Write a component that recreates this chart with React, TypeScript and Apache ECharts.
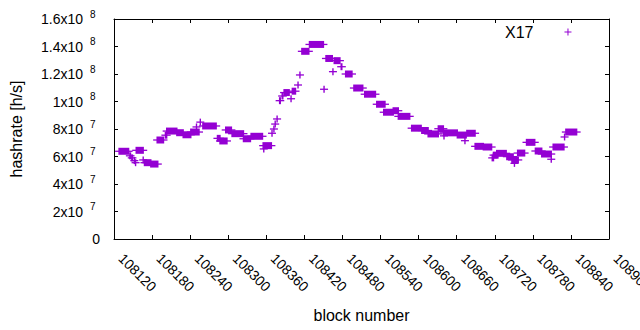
import React, { useEffect, useRef } from "react";
import * as echarts from "echarts";

// Runs of blocks sharing (almost) the same hashrate: first block, last block, hashrate [h/s]
const runStart = [
  108128, 108145, 108148, 108152, 108154, 108155, 108166, 108168, 108178, 108188,
  108201, 108203, 108219, 108229, 108241, 108250, 108256, 108260, 108283, 108287,
  108296, 108306, 108324, 108336, 108355, 108356, 108369, 108372, 108374, 108377,
  108381, 108385, 108388, 108399, 108401, 108410, 108413, 108416, 108428, 108451,
  108454, 108465, 108467, 108478, 108485, 108498, 108515, 108534, 108545, 108560,
  108568, 108589, 108605, 108615, 108631, 108639, 108640, 108661, 108673, 108676,
  108689, 108702, 108716, 108718, 108723, 108739, 108747, 108751, 108756, 108770,
  108784, 108794, 108809, 108812, 108830, 108832,
];
const runEnd = [
  108143, 108146, 108149, 108152, 108154, 108166, 108166, 108178, 108189, 108198,
  108203, 108219, 108229, 108241, 108254, 108250, 108256, 108281, 108287, 108298,
  108305, 108324, 108335, 108354, 108368, 108356, 108369, 108372, 108374, 108377,
  108382, 108386, 108396, 108399, 108406, 108410, 108413, 108427, 108450, 108451,
  108464, 108465, 108476, 108479, 108495, 108512, 108532, 108547, 108560, 108568,
  108586, 108604, 108615, 108631, 108639, 108661, 108640, 108675, 108673, 108689,
  108702, 108715, 108718, 108725, 108738, 108749, 108757, 108751, 108767, 108783,
  108794, 108809, 108809, 108829, 108830, 108849,
];
const runHashrate = [
  63.8e6, 60.5e6, 59e6, 57e6, 55.5e6, 64.5e6, 57.5e6, 55.5e6, 54.5e6, 72e6,
  75.5e6, 78.5e6, 77.3e6, 75.8e6, 77.8e6, 81.5e6, 85e6, 82.2e6, 73.2e6, 71.3e6,
  79.3e6, 76.6e6, 72.9e6, 74.7e6, 67.9e6, 65.5e6, 76.9e6, 80e6, 83.6e6, 87.3e6,
  100.6e6, 104e6, 106.5e6, 102e6, 107.5e6, 112e6, 119.3e6, 136.5e6, 141.5e6, 108.9e6,
  131.3e6, 121.7e6, 129.7e6, 125.3e6, 120e6, 109.8e6, 105.3e6, 98e6, 92.2e6, 93.3e6,
  89.2e6, 80.6e6, 78.9e6, 76.4e6, 80.2e6, 77.2e6, 75e6, 75.6e6, 71.5e6, 76.9e6,
  67.4e6, 66.9e6, 59e6, 61e6, 62.3e6, 59.9e6, 57.5e6, 55e6, 62.5e6, 70.3e6,
  64e6, 61.8e6, 58e6, 66.9e6, 74.2e6, 77.8e6,
];

const seriesName = "X17";
const xMin = 108120;
const xMax = 108900;
const xStep = 60;
const yMin = 0;
const yMax = 1.6e8;
const yStep = 2e7;

const COLOR = "#9400d3";
const FONT = "'Liberation Sans', Arial, sans-serif";

export default function App() {
  const ref = useRef<HTMLDivElement>(null);

  useEffect(() => {
    if (!ref.current) return;
    const chart = echarts.init(ref.current, undefined, { renderer: "svg" });
    const data = runStart.map((s, i) => [s, runEnd[i], runHashrate[i]]);

    const axisLine = { show: true, onZero: false, lineStyle: { color: "#000", width: 1 } };
    const axisTick = { show: true, inside: true, length: 4, lineStyle: { color: "#000" } };

    const yFormatter = (v: number) => {
      if (v === 0) return "{z|0}";
      const exp = Math.floor(Math.log10(v) + 1e-9);
      const m = Math.round((v / Math.pow(10, exp)) * 10) / 10;
      return `{m|${m}x10}{e| ${exp}}`;
    };

    chart.setOption({
      animation: false,
      textStyle: { fontFamily: FONT },
      grid: { left: 114, right: 31, top: 19, bottom: 91, containLabel: false, outerBoundsMode: "none" },
      legend: {
        data: [{ name: seriesName, icon: "path://M0,3H3V0H4V3H7V4H4V7H3V4H0Z" }],
        left: 505,
        top: 24,
        padding: 0,
        align: "right",
        itemWidth: 59,
        itemHeight: 7,
        selectedMode: false,
        textStyle: { fontSize: 16, color: "#000", fontFamily: FONT },
      },
      xAxis: [
        {
          type: "value",
          position: "bottom",
          min: xMin,
          max: xMax,
          interval: xStep,
          axisLine,
          axisTick,
          splitLine: { show: false },
          axisLabel: {
            rotate: -45,
            margin: 10,
            padding: [0, 0, 0, 10],
            fontSize: 14,
            color: "#000",
            fontFamily: FONT,
            showMinLabel: true,
            showMaxLabel: true,
            formatter: (v: number) => String(v),
          },
          name: "block number",
          nameLocation: "middle",
          nameGap: 68,
          nameTextStyle: { fontSize: 16, color: "#000", fontFamily: FONT },
        },
        {
          type: "value",
          position: "top",
          min: xMin,
          max: xMax,
          interval: xStep,
          axisLine,
          axisTick,
          splitLine: { show: false },
          axisLabel: { show: false },
        },
      ],
      yAxis: [
        {
          type: "value",
          position: "left",
          min: yMin,
          max: yMax,
          interval: yStep,
          axisLine,
          axisTick,
          splitLine: { show: false },
          axisLabel: {
            margin: 14,
            color: "#000",
            fontFamily: FONT,
            formatter: yFormatter,
            rich: {
              m: { fontSize: 14, lineHeight: 20, verticalAlign: "middle", color: "#000", fontFamily: FONT },
              e: { fontSize: 10, lineHeight: 12, verticalAlign: "top", width: 17, align: "left", color: "#000", fontFamily: FONT },
              z: { fontSize: 14, lineHeight: 20, color: "#000", fontFamily: FONT },
            },
          },
          name: "hashrate [h/s]",
          nameLocation: "middle",
          nameGap: 90,
          nameTextStyle: { fontSize: 16, color: "#000", fontFamily: FONT },
        },
        {
          type: "value",
          position: "right",
          min: yMin,
          max: yMax,
          interval: yStep,
          axisLine,
          axisTick,
          splitLine: { show: false },
          axisLabel: { show: false },
        },
      ],
      series: [
        {
          name: seriesName,
          type: "custom",
          xAxisIndex: 0,
          yAxisIndex: 0,
          itemStyle: { color: COLOR },
          encode: { x: [0, 1], y: 2 },
          data,
          renderItem: (params: any, api: any) => {
            const s = api.value(0);
            const e = api.value(1);
            const v = api.value(2);
            const p1 = api.coord([s, v]);
            const p2 = api.coord([e, v]);
            const half = 3.5;
            return {
              type: "group",
              children: [
                {
                  type: "rect",
                  shape: { x: p1[0] - 0.7, y: p1[1] - half, width: p2[0] - p1[0] + 1.4, height: half * 2 },
                  style: { fill: COLOR },
                },
                {
                  type: "line",
                  shape: { x1: p1[0] - half - 0.5, y1: p1[1], x2: p2[0] + half + 0.5, y2: p1[1] },
                  style: { stroke: COLOR, lineWidth: 1.3 },
                },
              ],
            };
          },
        },
      ],
    });

    return () => chart.dispose();
  }, []);

  return <div ref={ref} style={{ width: 640, height: 330, position: "absolute", left: 0, top: 0 }} />;
}
